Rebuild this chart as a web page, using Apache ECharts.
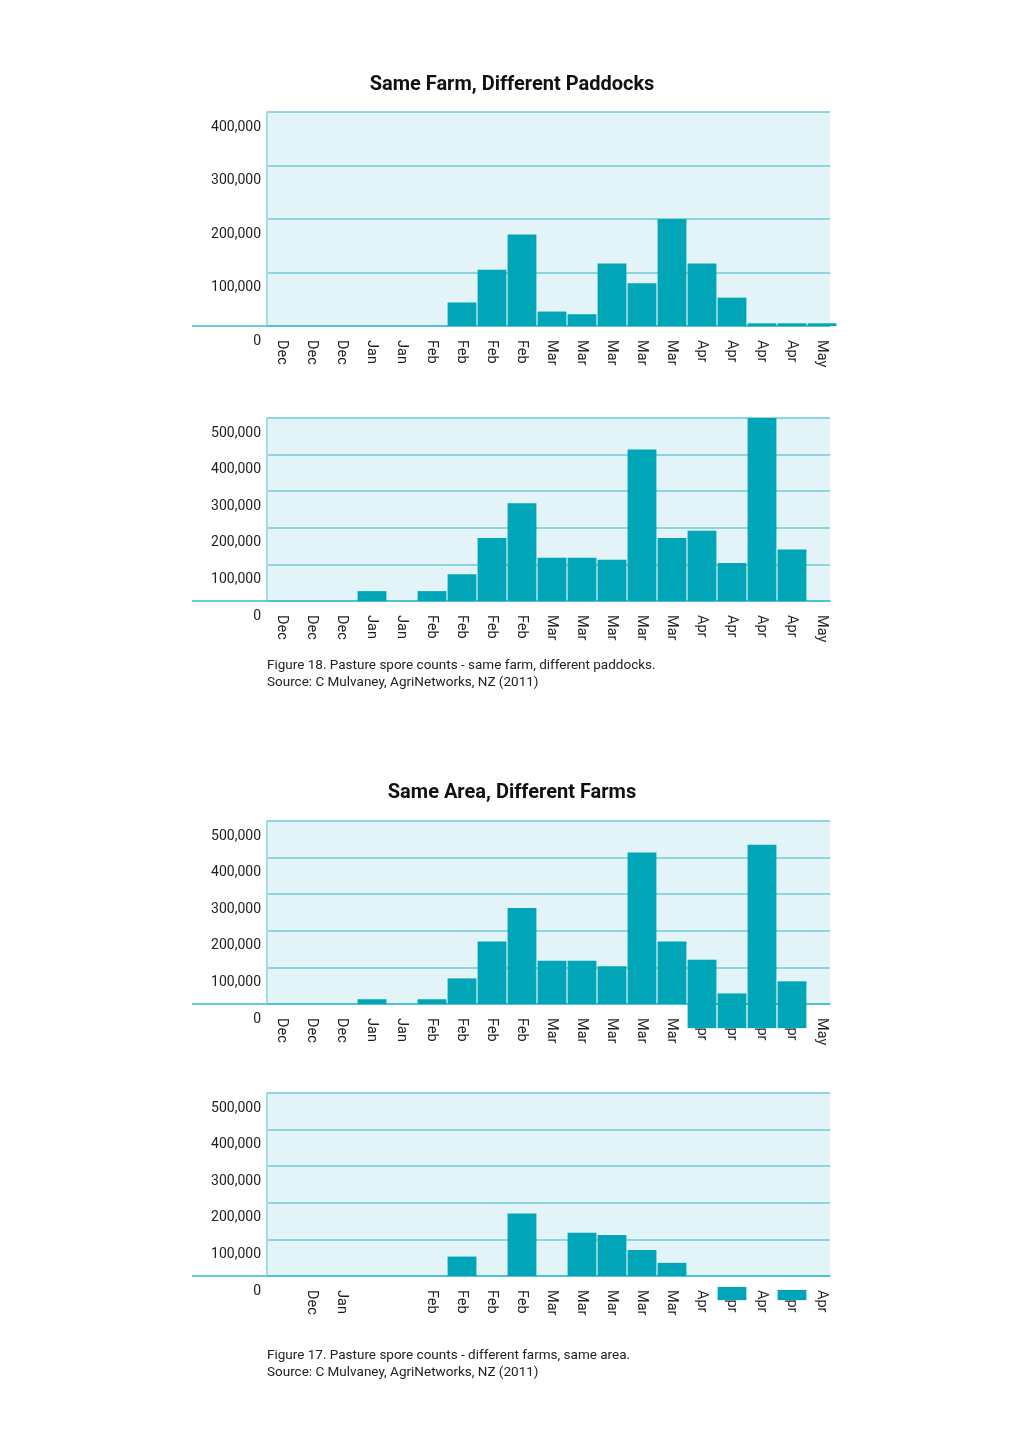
<!DOCTYPE html>
<html>
<head>
<meta charset="utf-8">
<script src="https://cdn.jsdelivr.net/npm/echarts@6/dist/echarts.min.js"></script>
<style>
  html, body { margin: 0; padding: 0; background: #ffffff; }
  #chart { width: 1024px; height: 1448px; }
</style>
</head>
<body>
<div id="chart"></div>
<script>
// ---------- data ----------
const monthsFull = ['Dec','Dec','Dec','Jan','Jan','Feb','Feb','Feb','Feb','Mar','Mar','Mar','Mar','Mar','Apr','Apr','Apr','Apr','May'];
const monthsSparse = ['','Dec','Jan','','','Feb','Feb','Feb','Feb','Mar','Mar','Mar','Mar','Mar','Apr','Apr','Apr','Apr','Apr'];

const paddockCountsA = [null,null,null,null,null,null,44000,105000,171000,27000,22000,117000,80000,200000,117000,53000,5000,5000,5000];
const paddockCountsB = [null,null,null,27000,null,27000,73000,172000,267000,118000,118000,113000,414000,172000,192000,104000,500000,141000,null];

const farmCountsA = [null,null,null,13000,null,13000,70000,171000,262000,118000,118000,103000,414000,171000,121000,29000,435000,62000,null];
const farmBelowA  = [null,null,null,null,null,null,null,null,null,null,null,null,null,null,-66000,-66000,-66000,-66000,null];

const farmCountsB = [null,null,null,null,null,null,53000,null,171000,null,118000,112000,71000,36000,null,null,null,null,null];
const farmGapB    = [null,null,null,null,null,null,null,null,null,null,null,null,null,null,null,-30000,null,-38000,null];
const farmFloatB  = [null,null,null,null,null,null,null,null,null,null,null,null,null,null,null,-36000,null,-28000,null];

const yMaxes = [400000, 500000, 500000, 500000];
const yStep = 100000;

const titles = ['Same Farm, Different Paddocks', 'Same Area, Different Farms'];
const captions = [
  'Figure 18. Pasture spore counts - same farm, different paddocks.\nSource: C Mulvaney, AgriNetworks, NZ (2011)',
  'Figure 17. Pasture spore counts - different farms, same area.\nSource: C Mulvaney, AgriNetworks, NZ (2011)'
];

// ---------- styling / layout ----------
const FONT = 'Roboto';
const BAR = '#00a5b7';
const BG = '#e2f4f7';
const GRID_LINE = '#6fcbd5';
const BASE_LINE = '#3bbccb';
const LEFT = 267, PLOT_RIGHT = 830, AXIS_RIGHT = 837, LINE_START = 192;
const panels = [
  { top: 112, height: 214, cats: monthsFull },
  { top: 418, height: 183, cats: monthsFull },
  { top: 821, height: 183, cats: monthsFull },
  { top: 1093, height: 183, cats: monthsSparse }
];

const chart = echarts.init(document.getElementById('chart'), null, { renderer: 'canvas' });

const gridOpts = [], xAxes = [], yAxes = [];
panels.forEach((p, i) => {
  // background panel: fill, gridlines, value labels, baseline
  gridOpts.push({ left: LEFT, width: PLOT_RIGHT - LEFT, top: p.top, height: p.height,
    show: true, backgroundColor: BG, borderWidth: 0 });
  // bar panel: category scale with month labels
  gridOpts.push({ left: LEFT, width: AXIS_RIGHT - LEFT, top: p.top, height: p.height,
    show: false });

  xAxes.push({
    type: 'category', gridIndex: 2 * i, data: p.cats, boundaryGap: true,
    axisLine: { show: true, lineStyle: { color: BASE_LINE, width: 1.5 } },
    axisTick: { show: false }, axisLabel: { show: false }, splitLine: { show: false }
  });
  xAxes.push({
    type: 'category', gridIndex: 2 * i + 1, data: p.cats, boundaryGap: true,
    axisLine: { show: false }, axisTick: { show: false },
    axisLabel: { interval: 0, rotate: -90, margin: 14, fontSize: 14.5, color: '#1e1e1e', fontFamily: FONT },
    splitLine: { show: false }
  });

  yAxes.push({
    type: 'value', gridIndex: 2 * i, min: 0, max: yMaxes[i], interval: yStep,
    axisLine: { show: true, lineStyle: { color: '#a2dde4', width: 2 } },
    axisTick: { show: false },
    axisLabel: {
      margin: 6, fontSize: 14, color: '#1e1e1e', fontFamily: FONT,
      verticalAlign: 'top', padding: [8, 0, 0, 0],
      formatter: v => v.toLocaleString('en-US')
    },
    splitLine: { show: true, lineStyle: { color: GRID_LINE, width: 1.5 } }
  });
  yAxes.push({
    type: 'value', gridIndex: 2 * i + 1, min: 0, max: yMaxes[i], interval: yStep,
    axisLine: { show: false }, axisTick: { show: false },
    axisLabel: { show: false }, splitLine: { show: false }
  });
});

function barSeries(panel, data, extra) {
  return Object.assign({
    type: 'bar', xAxisIndex: 2 * panel + 1, yAxisIndex: 2 * panel + 1, data: data,
    barCategoryGap: '4%', clip: false, z: 5,
    itemStyle: { color: BAR },
    emphasis: { disabled: true }, silent: true
  }, extra || {});
}

const series = [
  barSeries(0, paddockCountsA),
  barSeries(1, paddockCountsB),
  barSeries(2, farmCountsA, { stack: 'farmA' }),
  barSeries(2, farmBelowA, { stack: 'farmA' }),
  barSeries(3, farmCountsB, { stack: 'farmB' }),
  barSeries(3, farmGapB, { stack: 'farmB', itemStyle: { color: 'rgba(0,0,0,0)' } }),
  barSeries(3, farmFloatB, { stack: 'farmB' })
];

const titleStyle = { fontFamily: FONT, fontSize: 20, fontWeight: 'bold', color: '#111' };
const capStyle = { fontFamily: FONT, fontSize: 13.5, fontWeight: 'normal', color: '#222', lineHeight: 17 };
const titleOpts = [
  { text: titles[0], left: 512, top: 75, textAlign: 'center', padding: 0, textStyle: titleStyle },
  { text: titles[1], left: 512, top: 783, textAlign: 'center', padding: 0, textStyle: titleStyle },
  { text: captions[0], left: 267, top: 657, padding: 0, textStyle: capStyle },
  { text: captions[1], left: 267, top: 1347, padding: 0, textStyle: capStyle }
];

// baseline extension to the left of each plot (decorative axis line)
const graphics = panels.map(p => ({
  type: 'line',
  shape: { x1: LINE_START, y1: p.top + p.height, x2: LEFT, y2: p.top + p.height },
  style: { stroke: BASE_LINE, lineWidth: 1.5 },
  silent: true
}));

chart.setOption({
  animation: false,
  title: titleOpts,
  grid: gridOpts,
  xAxis: xAxes,
  yAxis: yAxes,
  series: series,
  graphic: graphics
});
</script>
</body>
</html>
